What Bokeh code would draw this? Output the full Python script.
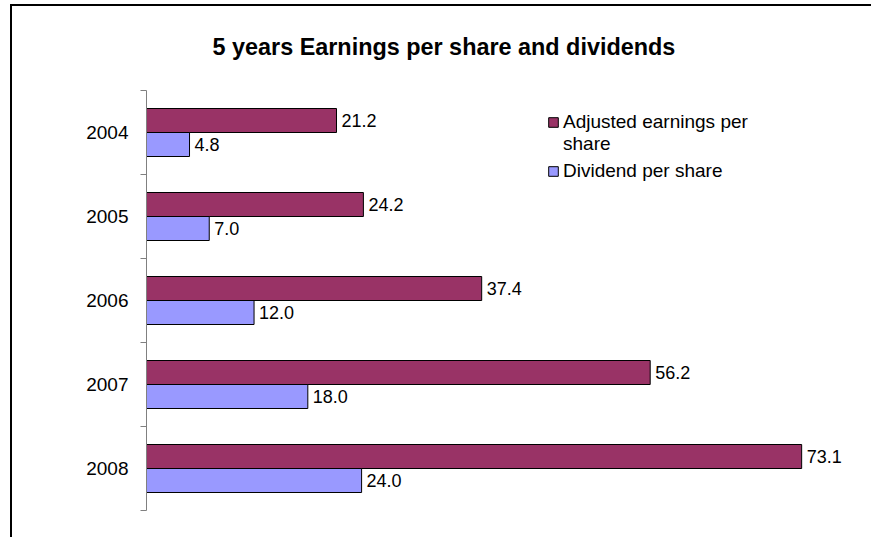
from bokeh.plotting import figure
from bokeh.models import Range1d, FixedTicker, ColumnDataSource, Legend, LegendItem
from bokeh.transform import dodge
from bokeh.core.properties import value
from bokeh.embed import file_html
from bokeh.resources import INLINE

years = ["2004", "2005", "2006", "2007", "2008"]
earnings = [21.2, 24.2, 37.4, 56.2, 73.1]
dividends = [4.8, 7.0, 12.0, 18.0, 24.0]
earn_name_lines = ["Adjusted earnings per", "share"]
div_name = "Dividend per share"
colors = ["#993366", "#9999FF"]

FONT = "Liberation Sans"
idx = list(range(len(years)))

src = ColumnDataSource(dict(
    y=idx,
    earn=earnings,
    div=dividends,
    earn_txt=[f"{v:.1f}" for v in earnings],
    div_txt=[f"{v:.1f}" for v in dividends],
))

p = figure(width=871, height=537, output_backend="svg", toolbar_location=None,
           x_range=Range1d(0, 80), y_range=Range1d(len(years) - 0.5, -0.5),
           min_border_left=146, min_border_right=8, min_border_top=90,
           min_border_bottom=27)
p.border_fill_color = None
p.background_fill_color = None
p.styles = {"box-shadow": "inset 10px 4px 0 0 white, inset 12px 6px 0 0 black",
            "background-color": "white"}

p.title.text = "5 years Earnings per share and dividends"
p.title.text_font = FONT
p.title.text_font_size = "23.4px"
p.title.text_font_style = "bold"
p.title.text_color = "black"
p.title.align = "left"
p.title.offset = 66
p.title.standoff = 61

off = 0.5 * 24 / 84
bh = 24 / 84
r1 = p.hbar(y=dodge("y", -off, range=p.y_range), right="earn", left=0, height=bh,
            source=src, fill_color=colors[0], line_color="black", line_width=1)
r2 = p.hbar(y=dodge("y", off, range=p.y_range), right="div", left=0, height=bh,
            source=src, fill_color=colors[1], line_color="black", line_width=1)
# invisible renderer used only for the wrapped second line of the legend label
r_blank = p.hbar(y=[], right=[], left=0, height=bh, fill_alpha=0, line_alpha=0)

p.text(x="earn", y=dodge("y", -off, range=p.y_range), text="earn_txt", source=src,
       x_offset=5, text_align="left", text_baseline="middle",
       text_font_size="18px", text_font=value(FONT), text_color="black")
p.text(x="div", y=dodge("y", off, range=p.y_range), text="div_txt", source=src,
       x_offset=5, text_align="left", text_baseline="middle",
       text_font_size="18px", text_font=value(FONT), text_color="black")

p.xaxis.visible = False
p.xgrid.visible = False
p.ygrid.visible = False
p.outline_line_color = None

yax = p.yaxis[0]
yax.ticker = FixedTicker(ticks=idx, minor_ticks=[i - 0.5 for i in range(len(years) + 1)])
yax.major_label_overrides = {i: y for i, y in enumerate(years)}
yax.major_tick_out = 0
yax.major_tick_in = 0
yax.minor_tick_out = 6
yax.minor_tick_in = 0
yax.minor_tick_line_color = "#808080"
yax.axis_line_color = "#808080"
yax.major_label_standoff = 12
yax.major_label_text_font = FONT
yax.major_label_text_font_size = "19px"
yax.major_label_text_color = "black"


def style_legend(lg):
    lg.label_text_font = FONT
    lg.label_text_font_size = "19px"
    lg.label_text_color = "black"
    lg.glyph_width = 12
    lg.glyph_height = 12
    lg.label_height = 20
    lg.border_line_color = None
    lg.background_fill_alpha = 0
    lg.padding = 0
    lg.margin = 0
    lg.spacing = 0
    lg.label_standoff = 4


legend_a = Legend(items=[LegendItem(label=earn_name_lines[0], renderers=[r1]),
                         LegendItem(label=earn_name_lines[1], renderers=[r_blank])],
                  location=(401, 355))
legend_b = Legend(items=[LegendItem(label=div_name, renderers=[r2])],
                  location=(401, 328))
style_legend(legend_a)
style_legend(legend_b)
p.add_layout(legend_a)
p.add_layout(legend_b)

open("out.html", "w").write(file_html(p, INLINE))
